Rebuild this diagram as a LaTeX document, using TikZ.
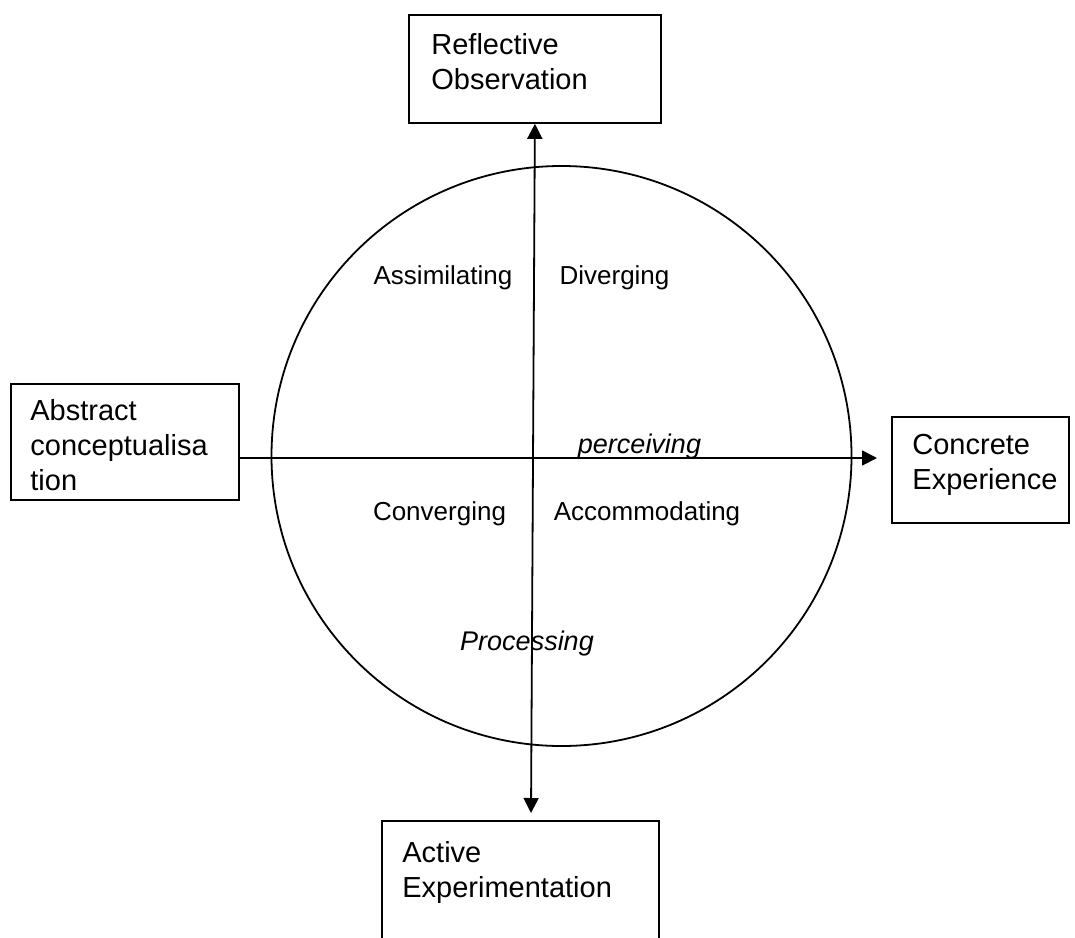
\documentclass[tikz,border=0pt]{standalone}
\usepackage{fontspec}
\setmainfont{Liberation Sans}
\usetikzlibrary{arrows.meta}

\tikzset{
  box/.style={draw, line width=0.9pt, rectangle, anchor=north west, inner sep=0pt},
  boxtext/.style={anchor=north west, inner sep=0pt, align=left,
    font=\fontsize{14.5}{17.5}\selectfont},
  quadrant/.style={anchor=base, inner sep=0pt, font=\fontsize{13}{15}\selectfont},
  mode/.style={anchor=base, inner sep=0pt, font=\fontsize{13.5}{16}\selectfont\itshape},
  axis/.style={line width=0.9pt, >={Triangle[length=7.5pt,width=7.5pt]}}
}

\begin{document}
\begin{tikzpicture}[x=0.5pt, y=-0.5pt]
                    \useasboundingbox (0,0) rectangle (1075,937);
                    \clip (0,0) rectangle (1075,937);

                    \node[circle, draw, line width=0.9pt, minimum size=290pt] (cycle) at (561.5,456) {};

                    \node[box, minimum width=126pt, minimum height=54pt] (refl) at (408,14) {};
                    \node[boxtext] (refltext) at (431,33) {Reflective\\Observation};
                    \node[box, minimum width=114pt, minimum height=58pt] (abst) at (10,383) {};
                    \node[boxtext] (absttext) at (30,399) {Abstract\\conceptualisa\\tion};
                    \node[box, minimum width=88.5pt, minimum height=53pt] (conc) at (891,416) {};
                    \node[boxtext] (conctext) at (912,434) {Concrete\\Experience};
                    \node[box, minimum width=138.5pt, minimum height=80pt] (actv) at (381,820) {};
                    \node[boxtext] (actvtext) at (402,841) {Active\\Experimentation};

                    \coordinate (o) at (532,458);
                    \coordinate (ptip) at (877,458);
                    \coordinate (pbot) at (531,813);
                    \draw[axis, <->] (refl.south) -- (pbot);
                    \draw[axis, ->] (abst.east |- o) -- (ptip);

                    \node[quadrant] (assim) at (443,284) {Assimilating};
                    \node[quadrant] (diver) at (614.5,284) {Diverging};
                    \node[quadrant] (conv) at (439.5,520) {Converging};
                    \node[quadrant] (accom) at (647,520) {Accommodating};

                    \node[mode] (perc) at (639.5,453) {perceiving};
                    \node[mode] (proc) at (527,650) {Processing};
                \end{tikzpicture}
\end{document}
